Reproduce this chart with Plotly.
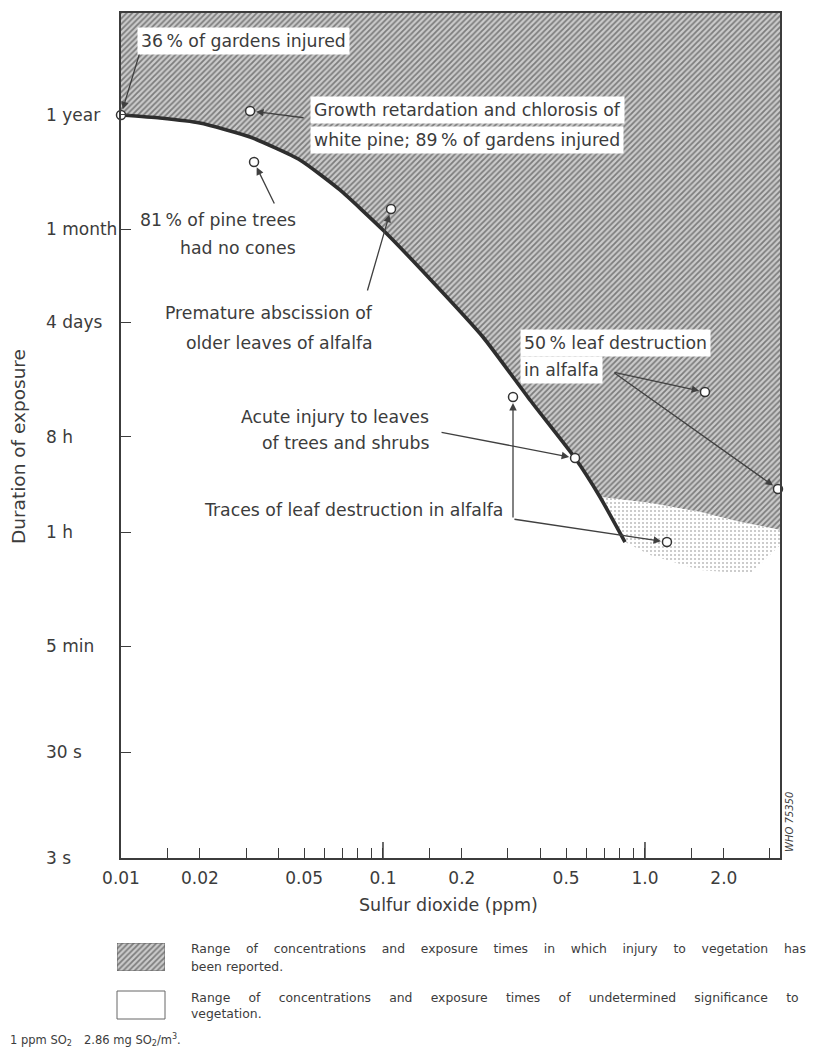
import math
import plotly.graph_objects as go

# page body adds an 8 px margin; the figure is sized/placed to compensate
OFF = 8
W, H = 825 - OFF, 1057 - OFF
FONT = "DejaVu Sans"
INK = "#3c3c3c"

# ---------------- data ----------------
x_range_ppm = [0.01, 3.276]         # Sulfur dioxide (ppm), log axis
y_range_sec = [3, 2.9e8]            # duration of exposure (seconds), log axis

y_tick_vals = [3, 30, 300, 3600, 28800, 345600, 2628000, 31536000]
y_tick_text = ["3 s", "30 s", "5 min", "1 h", "8 h", "4 days", "1 month", "1 year"]

x_tick_vals = [0.01, 0.02, 0.05, 0.1, 0.2, 0.5, 1.0, 2.0]
x_tick_text = ["0.01", "0.02", "0.05", "0.1", "0.2", "0.5", "1.0", "2.0"]
x_minor_vals = [0.015, 0.03, 0.04, 0.06, 0.07, 0.08, 0.09,
                0.15, 0.3, 0.4, 0.6, 0.7, 0.8, 0.9, 1.5, 3.0]
x_long_tick_vals = [0.1, 1.0]

# threshold curve of reported injury
curve_ppm = [0.01, 0.01409, 0.02, 0.0311, 0.0482, 0.0685, 0.1, 0.1512, 0.2407, 0.364, 0.5408, 0.6735, 0.8389]
curve_sec = [3.155e7, 2.955e7, 2.65e7, 1.955e7, 1.185e7, 6.17e6, 2.58e6, 8.89e5, 2.515e5, 6.39e4, 1.807e4, 7734, 2905]

# lower edge of the hatched zone (right of the curve)
hatch_edge_ppm = [0.6735, 1.045, 1.622, 2.305, 3.276]
hatch_edge_sec = [7734, 6800, 5580, 4490, 3780]

# lower edge of the stippled (fading) zone
stipple_edge_ppm = [0.8389, 1.045, 1.622, 2.516, 3.276]
stipple_edge_sec = [2905, 2190, 1580, 1450, 2710]

# observations (open circles)
obs_ppm = [0.01, 0.0311, 0.0322, 0.1073, 0.5408, 0.3135, 1.213, 1.694, 3.218]
obs_sec = [3.155e7, 3.442e7, 1.134e7, 4.08e6, 1.807e4, 6.82e4, 2905, 7.6e4, 9204]

# label lines: (observation index, text, xshift, yshift, xanchor, white box)
label_lines = [
    (0, "36\u2009% of gardens injured", 16, 74, "left", True),
    (1, "Growth retardation and chlorosis of", 60, 1, "left", True),
    (1, "white pine; 89\u2009% of gardens injured", 60, -29, "left", True),
    (2, "81\u2009% of pine trees", 46, -58, "right", False),
    (2, "had no cones", 46, -86, "right", False),
    (3, "Premature abscission of", -14, -104, "right", False),
    (3, "older leaves of alfalfa", -14, -134, "right", False),
    (4, "Acute injury to leaves", -142, 41, "right", False),
    (4, "of trees and shrubs", -142, 15, "right", False),
    (5, "Traces of leaf destruction in alfalfa", -6, -113, "right", False),
    (7, "50\u2009% leaf destruction", -185, 49, "left", True),
    (7, "in alfalfa", -185, 22, "left", True),
]

# arrows: (observation index, tail offset x px, tail offset y px)
arrows = [
    (0, 19, -63),
    (1, 55, 7),
    (2, 21, 43),
    (3, -24, 83),
    (4, -135, -26),
    (5, 0, 122),
    (6, -154, -23),
    (7, -92, -20),
    (8, -165, -117),
]

# legend lines: (text, extra spacing between words)
legend_words = [
    ("Range of concentrations and exposure times in which injury to vegetation has", "\u00a0\u00a0\u00a0"),
    ("been reported.", ""),
    ("Range of concentrations and exposure times of undetermined significance to", "\u00a0\u00a0\u00a0\u2009"),
    ("vegetation.", ""),
]

# ---------------- layout geometry (reference pixels) ----------------
PX0, PX1, PY0, PY1 = 121, 780, 13, 858
def px(x): return (x - OFF) / W
def py(y): return 1 - (y - OFF) / H

fig = go.Figure()

HATCH = dict(shape="/", size=4, solidity=0.45, fgcolor="#2e2e2e", bgcolor="#cbcbcb")

# hatched zone (injury reported)
k = curve_ppm.index(hatch_edge_ppm[0])
hx = [x_range_ppm[0]] + curve_ppm[:k + 1] + hatch_edge_ppm[1:] + [x_range_ppm[1], x_range_ppm[0]]
hy = [y_range_sec[1]] + curve_sec[:k + 1] + hatch_edge_sec[1:] + [y_range_sec[1], y_range_sec[1]]
fig.add_trace(go.Scatter(x=hx, y=hy, mode="none", fill="toself", hoverinfo="skip",
                         fillpattern=HATCH))

# stippled fading zone
sx = curve_ppm[k:] + stipple_edge_ppm[1:] + hatch_edge_ppm[::-1]
sy = curve_sec[k:] + stipple_edge_sec[1:] + hatch_edge_sec[::-1]
fig.add_trace(go.Scatter(
    x=sx, y=sy, mode="none", fill="toself", hoverinfo="skip",
    fillpattern=dict(shape=".", size=4, solidity=0.2, fgcolor="#777777", bgcolor="white"),
))

# threshold curve
fig.add_trace(go.Scatter(
    x=curve_ppm, y=curve_sec, mode="lines",
    line=dict(color="#2e2e2e", width=3.6, shape="spline", smoothing=0.5),
    hoverinfo="skip",
))

# observations
fig.add_trace(go.Scatter(
    x=obs_ppm, y=obs_sec, mode="markers", cliponaxis=False,
    marker=dict(symbol="circle", size=9, color="white", line=dict(color="#333", width=1.5)),
))

# hatched legend swatch (inset axes)
fig.add_trace(go.Scatter(
    x=[0, 1, 1, 0, 0], y=[0, 0, 1, 1, 0], mode="lines", fill="toself",
    line=dict(color="#666", width=1), fillpattern=HATCH,
    xaxis="x3", yaxis="y3", hoverinfo="skip",
))

all_x_ticks = sorted(x_tick_vals + x_minor_vals)
all_x_text = [x_tick_text[x_tick_vals.index(v)] if v in x_tick_vals else "" for v in all_x_ticks]

fig.update_layout(
    width=W, height=H, showlegend=False,
    margin=dict(l=0, r=0, t=0, b=0, autoexpand=False),
    paper_bgcolor="white", plot_bgcolor="white",
    font=dict(family=FONT, color=INK, size=17),
    xaxis=dict(
        type="log", domain=[px(PX0), px(PX1)], automargin=False,
        range=[math.log10(x_range_ppm[0]), math.log10(x_range_ppm[1])],
        tickmode="array", tickvals=all_x_ticks, ticktext=all_x_text,
        ticks="inside", ticklen=10, tickwidth=1.3, tickcolor=INK,
        tickfont=dict(size=17, color=INK), ticklabelstandoff=4,
        showline=True, linecolor=INK, linewidth=1.6, mirror=True,
        showgrid=False, zeroline=False, fixedrange=True,
    ),
    yaxis=dict(
        type="log", domain=[py(PY1), py(PY0)], automargin=False,
        range=[math.log10(y_range_sec[0]), math.log10(y_range_sec[1])],
        tickmode="array", tickvals=y_tick_vals, showticklabels=False,
        ticks="inside", ticklen=10, tickwidth=1.3, tickcolor=INK,
        showline=True, linecolor=INK, linewidth=1.6, mirror=True,
        showgrid=False, zeroline=False, fixedrange=True,
    ),
    xaxis3=dict(domain=[px(117), px(165)], range=[0, 1], anchor="y3", automargin=False,
                visible=False, fixedrange=True),
    yaxis3=dict(domain=[py(971), py(943)], range=[0, 1], anchor="x3", automargin=False,
                visible=False, fixedrange=True),
)

shapes = []
for v in x_long_tick_vals:
    shapes.append(dict(type="line", xref="x", yref="y domain", x0=v, x1=v,
                       ysizemode="pixel", yanchor=0, y0=0, y1=16,
                       line=dict(color=INK, width=1.5)))
# white legend swatch
shapes.append(dict(type="rect", xref="paper", yref="paper",
                   x0=px(117), x1=px(165), y0=py(1019), y1=py(991),
                   line=dict(color="#666", width=1), fillcolor="white"))
fig.update_layout(shapes=shapes)

ann = []
# y tick labels (left aligned, like the original)
for v, t in zip(y_tick_vals, y_tick_text):
    ann.append(dict(text=t, xref="paper", yref="y", x=px(44), y=math.log10(v),
                    xanchor="left", yanchor="middle", showarrow=False,
                    font=dict(size=17, color=INK)))

# arrows
for i, axp, ayp in arrows:
    ann.append(dict(text="", x=math.log10(obs_ppm[i]), y=math.log10(obs_sec[i]),
                    xref="x", yref="y", showarrow=True, ax=axp, ay=ayp,
                    arrowhead=2, arrowsize=1.15, arrowwidth=1.3, arrowcolor="#404040",
                    standoff=6))

# labels
for i, t, xs, ys, xa, box in label_lines:
    ann.append(dict(text=t, x=math.log10(obs_ppm[i]), y=math.log10(obs_sec[i]),
                    xref="x", yref="y", xshift=xs, yshift=ys, xanchor=xa, yanchor="middle",
                    showarrow=False, font=dict(size=17.3, color=INK),
                    bgcolor="white" if box else None, borderpad=3))

# axis titles
ann.append(dict(text="Sulfur dioxide (ppm)", xref="paper", yref="paper",
                x=px(448), y=py(905), xanchor="center", yanchor="middle",
                showarrow=False, font=dict(size=17.5, color=INK)))
ann.append(dict(text="Duration of exposure", xref="paper", yref="paper",
                x=px(18), y=py(447), xanchor="center", yanchor="middle", textangle=-90,
                showarrow=False, font=dict(size=18.5, color=INK)))

# figure code
ann.append(dict(text="<i>WHO 75350</i>", xref="paper", yref="paper",
                x=px(789), y=py(822), xanchor="center", yanchor="middle", textangle=-90,
                showarrow=False, font=dict(size=10, color=INK)))

# legend texts (spread like justified text)
for (t, extra), yy in zip(legend_words, [948, 966, 997, 1013]):
    sep = " " + extra
    ann.append(dict(text=sep.join(t.split(" ")), xref="paper", yref="paper",
                    x=px(189), y=py(yy), xanchor="left", yanchor="middle",
                    showarrow=False, font=dict(size=12.4, color=INK)))

# footnote
ann.append(dict(text="1 ppm SO<sub>2</sub>", xref="paper", yref="paper", x=px(8), y=py(1040),
                xanchor="left", yanchor="middle", showarrow=False, font=dict(size=11.5, color=INK)))
ann.append(dict(text="2.86 mg SO<sub>2</sub>/m<sup>3</sup>.", xref="paper", yref="paper",
                x=px(82), y=py(1040), xanchor="left", yanchor="middle", showarrow=False,
                font=dict(size=11.5, color=INK)))

fig.update_layout(annotations=ann)
fig.write_html("out.html")
